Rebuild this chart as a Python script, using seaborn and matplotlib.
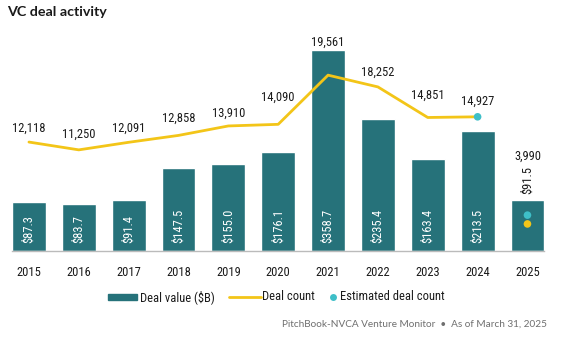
import numpy as np
import pandas as pd
import matplotlib
matplotlib.use("Agg")
import matplotlib.pyplot as plt
from matplotlib import font_manager
from matplotlib.patches import Rectangle
from matplotlib.lines import Line2D
import seaborn as sns

# ---- data ----
years = ["2015", "2016", "2017", "2018", "2019", "2020", "2021", "2022", "2023", "2024", "2025"]
deal_value = [87.3, 83.7, 91.4, 147.5, 155.0, 176.1, 358.7, 235.4, 163.4, 213.5, 91.5]
value_labels = ["$87.3", "$83.7", "$91.4", "$147.5", "$155.0", "$176.1", "$358.7", "$235.4", "$163.4", "$213.5", "$91.5"]
count_years = ["2015", "2016", "2017", "2018", "2019", "2020", "2021", "2022", "2023", "2024"]
deal_count = [12118, 11250, 12091, 12858, 13910, 14090, 19561, 18252, 14851, 14927]
est_years = ["2024", "2025"]
est_count = [14927, 3990]
partial_years = ["2025"]
partial_count = [3010]

# label offsets above the line points (pixels), layout only
label_offsets_px = [14, 16, 14, 17, 13, 27, 33, 15, 22, 16]

TEAL = "#26727A"
YELLOW = "#F3C518"
CYAN = "#3EBFC8"
DARK = "#1a1a1a"
GRAY = "#6f6f6f"

sns.set_theme(style="white")
names = {f.name for f in font_manager.fontManager.ttflist}


def pick(cands, fallback="DejaVu Sans"):
    for c in cands:
        if c in names:
            return c
    return fallback


NARROW = pick(["Roboto Condensed", "PT Sans Narrow", "Archivo Narrow", "Asap Condensed",
               "Fira Sans Condensed", "Encode Sans Condensed", "Barlow Semi Condensed", "Barlow Condensed"])
TITLEF = pick(["Lato", "Open Sans"])
plt.rcParams["font.family"] = [NARROW, "DejaVu Sans"]

W, H = 564, 339
fig = plt.figure(figsize=(W / 100, H / 100), dpi=100)
ax_left, ax_right = 12, 544.4
ax_top, ax_bottom = 30, 251
ax = fig.add_axes([ax_left / W, 1 - ax_bottom / H, (ax_right - ax_left) / W, (ax_bottom - ax_top) / H])

df = pd.DataFrame({"year": years, "value": deal_value})
sns.barplot(data=df, x="year", y="value", color=TEAL, saturation=1, width=0.68, ax=ax)
ax.set_xlim(-0.34, len(years) - 1 + 0.34)
ax.set_ylim(0, (ax_bottom - ax_top) / 0.5604)

for s in ["top", "left", "right"]:
    ax.spines[s].set_visible(False)
ax.spines["bottom"].set_color("#bbbbbb")
ax.spines["bottom"].set_linewidth(1)
ax.set_yticks([])
ax.set_xlabel("")
ax.set_ylabel("")
ax.tick_params(axis="x", length=0, pad=11, labelsize=9, labelcolor=DARK)

# bar labels
for i, (p, v, lab) in enumerate(zip(ax.patches, deal_value, value_labels)):
    cx = p.get_x() + p.get_width() / 2
    if i < len(years) - 1:
        ax.annotate(lab, xy=(cx, 0), xytext=(0, 6), textcoords="offset points",
                    rotation=90, ha="center", va="bottom", color="white", fontsize=9)
    else:
        ax.annotate(lab, xy=(cx, v), xytext=(0, 4), textcoords="offset points",
                    rotation=90, ha="center", va="bottom", color=DARK, fontsize=9)
        ax.annotate(f"{est_count[-1]:,}", xy=(cx, v), xytext=(0, 31), textcoords="offset points",
                    ha="center", va="center", color=DARK, fontsize=9)

# line axis
ax2 = ax.twinx()
ax2.set_ylim(0, (ax_bottom - ax_top) / 0.00899)
ax2.set_axis_off()
xpos = [years.index(y) for y in count_years]
sns.lineplot(x=xpos, y=deal_count, color=YELLOW, linewidth=2, ax=ax2, legend=False)
for x, c, off in zip(xpos, deal_count, label_offsets_px):
    ax2.annotate(f"{c:,}", xy=(x, c), xytext=(0, off * 0.72), textcoords="offset points",
                 ha="center", va="center", color=DARK, fontsize=9)
epos = [years.index(y) for y in est_years]
sns.scatterplot(x=epos, y=est_count, color=CYAN, s=30, edgecolor="none", ax=ax2, zorder=5, legend=False)
ppos = [years.index(y) for y in partial_years]
sns.scatterplot(x=ppos, y=partial_count, color=YELLOW, s=30, edgecolor="none", ax=ax2, zorder=5, legend=False)
ax2.set_xlim(ax.get_xlim())

# title
fig.text(7 / W, 1 - 12 / H, "VC deal activity", fontsize=10.3, fontweight="bold",
         family=[TITLEF, "DejaVu Sans"], color=DARK, ha="left", va="center")

# legend (manual)
ly = 1 - 297 / H
fig.patches.append(Rectangle((108 / W, ly - 3 / H), 29 / W, 6 / H, transform=fig.transFigure,
                             color=TEAL, figure=fig))
fig.text(140 / W, ly, "Deal value ($B)", fontsize=9, color=DARK, ha="left", va="center")
fig.lines.append(Line2D([229 / W, 261 / W], [ly, ly], transform=fig.transFigure, color=YELLOW, lw=2))
fig.text(262 / W, ly, "Deal count", fontsize=9, color=DARK, ha="left", va="center")
fig.lines.append(Line2D([333 / W], [ly], transform=fig.transFigure, color=CYAN, marker="o",
                        markersize=5, markeredgewidth=0, linestyle="none"))
fig.text(340 / W, ly, "Estimated deal count", fontsize=9, color=DARK, ha="left", va="center")

# source
fig.text(547 / W, 1 - 324 / H, "PitchBook-NVCA Venture Monitor  \u2022  As of March 31, 2025",
         fontsize=7.2, family=[TITLEF, "DejaVu Sans"], color=GRAY, ha="right", va="center")

fig.savefig("out.png", dpi=100, facecolor="white")
